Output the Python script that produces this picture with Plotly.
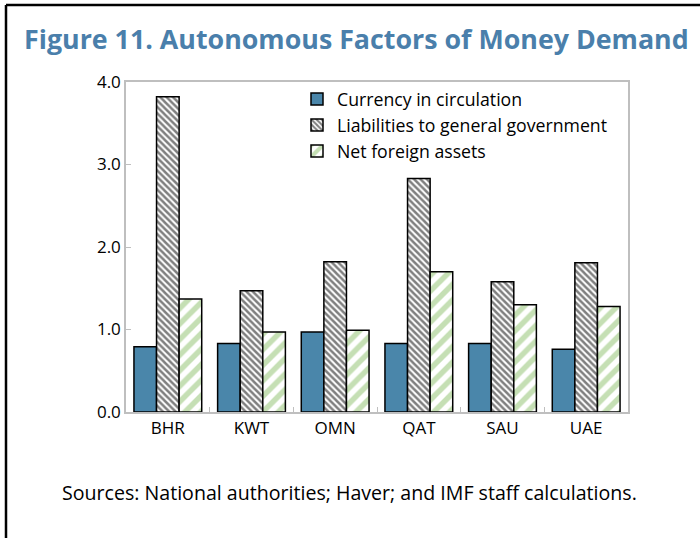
import plotly.graph_objects as go

# Country groups and the three autonomous factors (ratio)
countries = ["BHR", "KWT", "OMN", "QAT", "SAU", "UAE"]
currency = [0.79, 0.83, 0.97, 0.83, 0.83, 0.76]
liabilities = [3.82, 1.47, 1.82, 2.83, 1.58, 1.81]
net_foreign = [1.37, 0.97, 0.99, 1.70, 1.30, 1.28]

y_ticks = [0.0, 1.0, 2.0, 3.0, 4.0]

FONT = "Open Sans"
W, H = 700, 538
L, R, T, B = 126, 72, 82, 126
pw, ph = W - L - R, H - T - B


def px_x(p):
    return (p - L) / pw


def px_y(p):
    return (H - B - p) / ph


fig = go.Figure()
fig.add_trace(go.Bar(
    x=countries, y=currency, name="Currency in circulation",
    marker=dict(color="#4a86aa", line=dict(color="black", width=1.5)),
    legendgroup="a",
))
fig.add_trace(go.Bar(
    x=countries, y=liabilities, name="Liabilities to general government",
    marker=dict(color="white", line=dict(color="black", width=1.5),
                pattern=dict(shape="\\", fgcolor="black", bgcolor="white",
                             size=4.5, solidity=0.55)),
    legendgroup="b",
))
fig.add_trace(go.Bar(
    x=countries, y=net_foreign, name="Net foreign assets",
    marker=dict(color="white", line=dict(color="black", width=1.5),
                pattern=dict(shape="/", fgcolor="#8bbf6a", bgcolor="white",
                             size=11, solidity=0.5)),
    legendgroup="c",
))

fig.update_layout(
    width=W, height=H,
    margin=dict(l=L, r=R, t=T, b=B),
    paper_bgcolor="white", plot_bgcolor="white",
    barmode="group", bargap=0.19, bargroupgap=0,
    font=dict(family=FONT, size=17, color="black"),
    showlegend=True,
    legend=dict(x=px_x(297), y=px_y(81), xanchor="left", yanchor="top",
                bgcolor="rgba(0,0,0,0)", font=dict(size=17.7),
                tracegroupgap=4, traceorder="normal"),
    xaxis=dict(showline=True, linecolor="#bfbfbf", linewidth=1.5, mirror=True,
               ticks="inside", tickson="boundaries", ticklen=5,
               tickcolor="#bfbfbf", showgrid=False,
               tickfont=dict(size=17)),
    yaxis=dict(range=[0, 4], tickvals=y_ticks,
               ticktext=[f"{v:.1f}" for v in y_ticks],
               showline=True, linecolor="#bfbfbf", linewidth=1.5, mirror=True,
               ticks="inside", ticklen=5, tickcolor="#bfbfbf",
               showgrid=False, zeroline=False, tickfont=dict(size=17)),
    shapes=[
        dict(type="line", xref="paper", yref="paper",
             x0=px_x(6), x1=px_x(702), y0=px_y(5), y1=px_y(5),
             line=dict(color="black", width=2.5)),
        dict(type="line", xref="paper", yref="paper",
             x0=px_x(6), x1=px_x(6), y0=px_y(5), y1=px_y(540),
             line=dict(color="black", width=2.5)),
    ],
    annotations=[
        dict(text="<b>Figure 11. Autonomous Factors of Money Demand</b>",
             xref="paper", yref="paper", x=px_x(22), y=px_y(38),
             xanchor="left", yanchor="middle", showarrow=False,
             font=dict(family=FONT, size=26.8, color="#4a7fab")),
        dict(text="Sources: National authorities; Haver; and IMF staff calculations.",
             xref="paper", yref="paper", x=px_x(349), y=px_y(492),
             xanchor="center", yanchor="middle", showarrow=False,
             font=dict(family=FONT, size=19.6, color="black")),
    ],
)

fig.write_html("out.html")
